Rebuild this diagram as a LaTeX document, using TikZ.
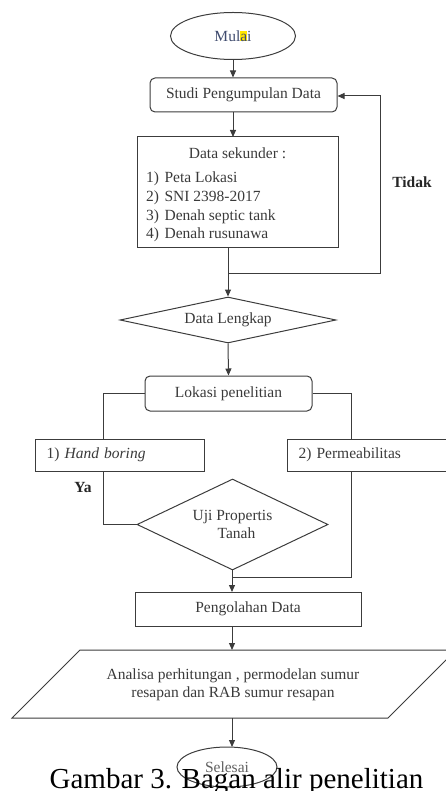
\documentclass[tikz,border=0pt]{standalone}
\usepackage{fontspec}
\setmainfont{Liberation Serif}
\usetikzlibrary{shapes.geometric,arrows.meta}
\definecolor{ink}{HTML}{3A3A3A}
\definecolor{edge}{HTML}{3C3C3C}
\definecolor{bluink}{HTML}{3F4B6E}
\definecolor{hl}{HTML}{FFE600}
\begin{document}
\begin{tikzpicture}[x=1pt,y=-1pt,
  every node/.style={font=\fontsize{15.5}{18.5}\selectfont, text=ink},
  proc/.style={draw=edge, line width=1pt, rectangle, inner sep=0pt},
  rproc/.style={proc, rounded corners=5pt},
  term/.style={draw=edge, line width=1pt, ellipse, inner sep=0pt},
  decis/.style={draw=edge, line width=1pt, diamond, inner sep=0pt, align=center},
  conn/.style={draw=edge, line width=1pt},
  arr/.style={conn, -{Triangle[length=7pt,width=6pt]}},
  lbl/.style={font=\fontsize{15.5}{18.5}\selectfont\bfseries, text=black!85}
]
\useasboundingbox (0,0) rectangle (446,791);

% start
\node[term, minimum width=125pt, minimum height=47pt, text=bluink] (mulai) at (233,36)
  {Mul{\setlength{\fboxsep}{0pt}\colorbox{hl}{\vphantom{M}a}}i};

% studi
\node[rproc, minimum width=187pt, minimum height=34pt] (studi) at (243.5,95) {Studi Pengumpulan Data};

% data sekunder
\node[proc, minimum width=201pt, minimum height=111pt] (datasek) at (237.5,192.5) {};
\node (dstitle) at (237.5,153) {Data sekunder :};
\node[anchor=base west, inner sep=0pt] (i1) at (146,183) {1)\hspace{5.5pt}Peta Lokasi};
\node[anchor=base west, inner sep=0pt] (i2) at (146,202) {2)\hspace{5.5pt}SNI 2398-2017};
\node[anchor=base west, inner sep=0pt] (i3) at (146,220.5) {3)\hspace{5.5pt}Denah septic tank};
\node[anchor=base west, inner sep=0pt] (i4) at (146,238.5) {4)\hspace{5.5pt}Denah rusunawa};

% data lengkap
\node[decis, aspect=4.7, minimum width=216pt, minimum height=46pt] (lengkap) at (228,320) {Data Lengkap};

% lokasi
\node[rproc, minimum width=167pt, minimum height=35pt] (lokasi) at (228.5,393.5) {Lokasi penelitian};

% branches
\node[proc, anchor=west, minimum height=32pt, inner xsep=11pt, text width=147pt, align=left] (hand) at (35,455) {1) \textit{Hand boring}};
\node[proc, anchor=west, minimum height=32pt, inner xsep=11pt, text width=151pt, align=left] (perm) at (287,455) {2) Permeabilitas};

% uji
\node[decis, aspect=2.1, minimum width=191pt, minimum height=91pt] (uji) at (232.5,524.5) {Uji Propertis\\\hspace{8pt}Tanah};

% pengolahan
\node[proc, minimum width=226pt, minimum height=34pt] (olah) at (248,609) {Pengolahan Data};

% parallelogram
\coordinate (pTL) at (80,650);
\coordinate (pTR) at (456,650);
\coordinate (pBR) at (388,718);
\coordinate (pBL) at (12,718);
\draw[conn, line join=miter] (pTL) -- (pTR) -- (pBR) -- (pBL) -- cycle;
\node[align=center] (anal) at (233,685) {Analisa perhitungan , permodelan sumur\\resapan dan RAB sumur resapan};
\coordinate (anTop) at (232,650);
\coordinate (anBot) at (232,718);

% end
\node[term, minimum width=100pt, minimum height=40pt, text=ink!80] (selesai) at (227,767) {Selesai};

% caption
\node[anchor=base, inner sep=0pt, text=black, font=\fontsize{29}{32}\selectfont] (cap) at (236.5,788) {Gambar 3. Bagan alir penelitian};

% connectors
\draw[arr] (mulai.south) -- (mulai.south |- studi.north);
\draw[arr] (233,112) -- (233,137);
\coordinate (jn1) at (228,273);
\draw[arr] (228,248) -- (lengkap.north);
\draw[arr] (jn1) -- (380,273) -- (380,96) -- (studi.east |- 0,96);
\draw[arr] (lengkap.south) -- (lokasi.north);
\draw[conn] (lokasi.west) -- (103,393.5) -- (103,439);
\draw[conn] (lokasi.east) -- (351,393.5) -- (351,439);
\draw[conn] (103,471) -- (103,524.5) -- (uji.west);
\coordinate (jn2) at (232,577);
\draw[conn] (351,471) -- (351,577) -- (jn2);
\draw[arr] (232,570) -- (232,592);
\draw[arr] (232,626) -- (anTop);
\draw[arr] (anBot) -- (232,747);

\node[lbl] (tidak) at (412,182) {Tidak};
\node[lbl] (ya) at (83,487) {Ya};
\end{tikzpicture}
\end{document}
